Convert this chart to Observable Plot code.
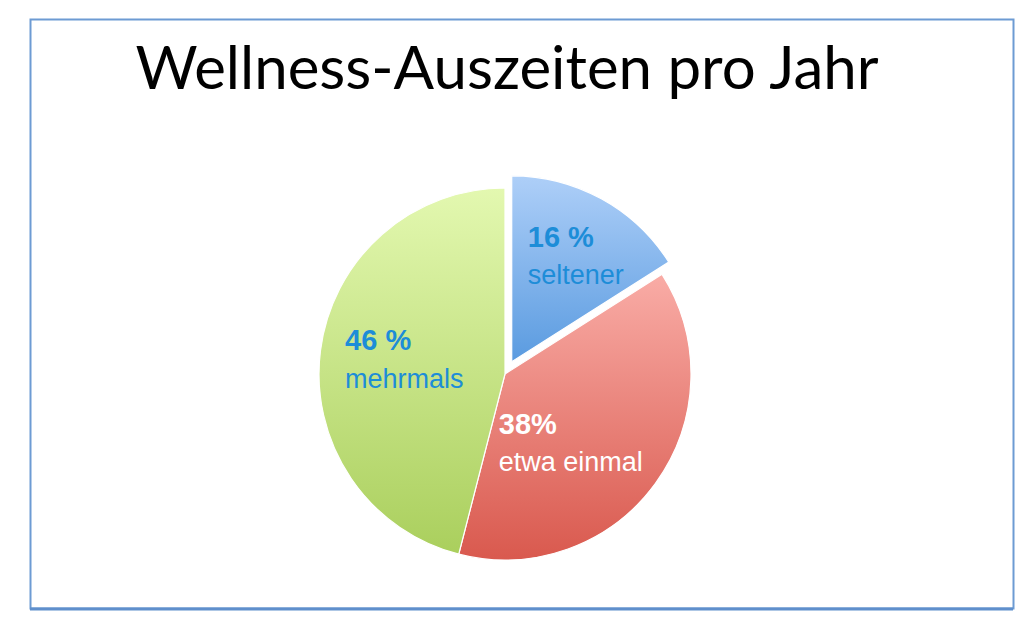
<!DOCTYPE html>
<html><head><meta charset="utf-8">
<script src="https://cdn.jsdelivr.net/npm/d3@7"></script>
<script src="https://cdn.jsdelivr.net/npm/@observablehq/plot@0.6"></script>
<style>html,body{margin:0;padding:0;background:#fff}</style>
</head><body><div id="chart"></div>
<script>
// ---- data ----
const title = "Wellness-Auszeiten pro Jahr";
const categories = ["seltener", "etwa einmal", "mehrmals"];
const shares = [16, 38, 46];
const percentLabels = ["16 %", "38%", "46 %"];

// ---- styles ----
const gradientStops = [["#aecff8", "#5a9be0"], ["#f9aca6", "#d9594e"], ["#e3f8b0", "#aacf5d"]];
const labelColors = ["#1d8dd8", "#ffffff", "#1d8dd8"];
const explodeUnits = [0.075, 0, 0];
const labelDx = [-40, -100, -46];
const labelDy = [-5, 1, 0];
const labelRadius = 0.62;

const rows = categories.map((c, i) => ({category: c, share: shares[i], pct: percentLabels[i], i}));
const arcs = d3.pie().sort(null).value(d => d.share)(rows);
const labelRows = arcs.map((a, i) => {
  const mid = (a.startAngle + a.endAngle) / 2;
  const k = labelRadius + explodeUnits[i];
  return {...a.data, lx: k * Math.sin(mid), ly: k * Math.cos(mid)};
});

function pieMark(index, scales) {
  const {x, y} = scales;
  const cx = x(0), cy = y(0), r = x(1) - x(0);
  const g = d3.create("svg:g");
  const defs = g.append("defs");
  gradientStops.forEach((s, i) => {
    const lg = defs.append("linearGradient").attr("id", "slice-grad-" + i)
      .attr("x1", 0).attr("y1", 0).attr("x2", 0).attr("y2", 1);
    lg.append("stop").attr("offset", "0%").attr("stop-color", s[0]);
    lg.append("stop").attr("offset", "100%").attr("stop-color", s[1]);
  });
  const arc = d3.arc().innerRadius(0).outerRadius(r);
  arcs.forEach((a, i) => {
    const mid = (a.startAngle + a.endAngle) / 2;
    const e = explodeUnits[i] * r;
    g.append("path")
      .attr("d", arc(a))
      .attr("transform", `translate(${cx + e * Math.sin(mid)},${cy - e * Math.cos(mid)})`)
      .attr("fill", `url(#slice-grad-${i})`)
      .attr("stroke", "#ffffff")
      .attr("stroke-width", 1.2);
  });
  return g.node();
}

// plot frame is the outer border: x 30..1013, y 19..608 ; pie centre (505,374), radius 186
const R = 186, CX = 505, CY = 374;
const yMin = (CY - 608) / R;
const chart = Plot.plot({
  width: 1024,
  height: 639,
  marginLeft: 30, marginRight: 11, marginTop: 19, marginBottom: 31,
  x: {domain: [(30 - CX) / R, (1013 - CX) / R], axis: null},
  y: {domain: [yMin, (CY - 19) / R], axis: null},
  style: {background: "#fff"},
  marks: [
    Plot.frame({stroke: "#6d9bd3", strokeWidth: 2}),
    Plot.ruleY([yMin], {stroke: "#5f8fcc", strokeWidth: 3, dy: 0.5}),
    pieMark,
    ...labelRows.map((d, i) => Plot.text([d], {
      x: "lx", y: "ly", text: "pct", fill: labelColors[i],
      textAnchor: "start", lineAnchor: "middle",
      dx: labelDx[i], dy: labelDy[i] - 19,
      fontFamily: "Liberation Sans, Arial, sans-serif", fontWeight: "bold", fontSize: 29
    })),
    ...labelRows.map((d, i) => Plot.text([d], {
      x: "lx", y: "ly", text: "category", fill: labelColors[i],
      textAnchor: "start", lineAnchor: "middle",
      dx: labelDx[i], dy: labelDy[i] + 19,
      fontFamily: "Liberation Sans, Arial, sans-serif", fontSize: 27
    })),
    Plot.text([title], {
      frameAnchor: "top", text: d => d, dx: -15, dy: 50,
      lineAnchor: "middle", fill: "#000",
      fontFamily: "Lato, sans-serif", fontSize: 60
    })
  ]
});
document.getElementById("chart").appendChild(chart);
</script>
</body></html>
